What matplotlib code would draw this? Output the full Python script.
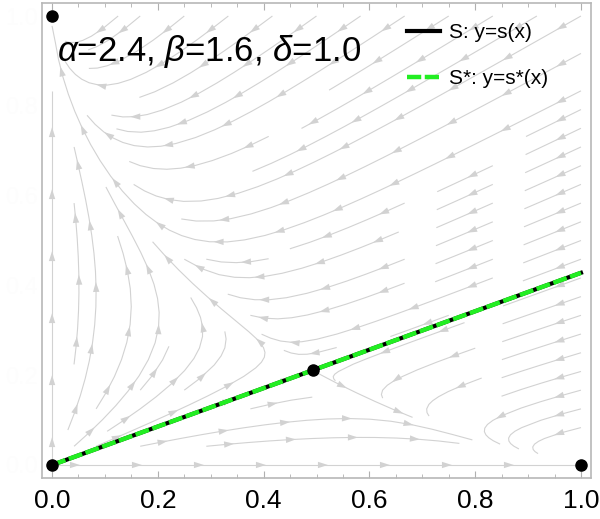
import numpy as np
import matplotlib.pyplot as plt
from matplotlib.patches import Polygon

plt.rcParams['mathtext.fontset'] = 'custom'
plt.rcParams['mathtext.it'] = 'Liberation Sans:italic'
plt.rcParams['mathtext.rm'] = 'Liberation Sans'

# parametros del modelo
alfa = 2.4
beta = 1.6
delta = 1.0

# puntos fijos
puntos_x = [0.0, 0.0, 1.0, 0.493]
puntos_y = [0.0, 1.0, 0.0, 0.211]

# separatriz S y S*
linea_x = [0.0, 1.0]
linea_y = [0.0, 0.428]

ticks_x = [0.0, 0.2, 0.4, 0.6, 0.8, 1.0]
ticks_y = [0.0, 0.2, 0.4, 0.6, 0.8, 1.0]

gris = '#d2d2d2'


def campo(x, y):
    u = x * (1 - x - alfa * y)
    v = delta * y * (1 - y - beta * x)
    return u, v


fig = plt.figure(figsize=(6.0, 5.19), dpi=100)
ax = fig.add_axes([42 / 600, 1 - 478 / 519, 549 / 600, 475 / 519])
ax.set_xlim(-0.019, 1.019)
ax.set_ylim(-0.029, 1.029)

xs = np.linspace(0, 1, 120)
ys = np.linspace(0, 1, 120)
X, Y = np.meshgrid(xs, ys)
U, V = campo(X, Y)
res = ax.streamplot(X, Y, U, V, density=0.85, color=gris, linewidth=0.8,
                    arrowsize=0.01, zorder=1)
for p in list(ax.patches):
    p.remove()

# trayectorias (unir segmentos si vienen de a dos puntos)
segs = [np.asarray(s) for s in res.lines.get_segments()]
if all(len(s) == 2 for s in segs):
    trayectorias = []
    actual = []
    for s in segs:
        if actual and np.allclose(actual[-1], s[0]):
            actual.append(s[1])
        else:
            if len(actual) > 1:
                trayectorias.append(np.array(actual))
            actual = [s[0], s[1]]
    if len(actual) > 1:
        trayectorias.append(np.array(actual))
else:
    trayectorias = segs

# varias flechas por trayectoria (triangulos en pixeles)
inv = ax.transData.inverted()
paso = 62.0
largo = 10.0
ancho = 3.2
for tr in trayectorias:
    pix = ax.transData.transform(tr)
    d = np.r_[0, np.cumsum(np.hypot(*np.diff(pix, axis=0).T))]
    if d[-1] < 20:
        continue
    for pp in np.arange(paso * 0.45, d[-1] - 6, paso):
        i = min(max(np.searchsorted(d, pp), 1), len(tr) - 1)
        v = pix[i] - pix[i - 1]
        n = np.hypot(*v)
        if n == 0:
            continue
        v = v / n
        w = np.array([-v[1], v[0]])
        punta = np.array([np.interp(pp, d, pix[:, 0]), np.interp(pp, d, pix[:, 1])])
        base = punta - v * largo
        tri = np.array([punta, base + w * ancho, base - w * ancho])
        ax.add_patch(Polygon(inv.transform(tri), closed=True, fc=gris, ec='none',
                             zorder=2))

ax.plot(linea_x, linea_y, color='black', lw=3.0, label='S: y=s(x)', zorder=3)
ax.plot(linea_x, linea_y, color='#22ee22', lw=3.2, ls=(0, (3.2, 0.8)),
        label='S*: y=s*(x)', zorder=4)
ax.plot(puntos_x, puntos_y, 'o', color='black', ms=8, zorder=5, clip_on=False)

ax.set_xticks(ticks_x)
ax.set_xticklabels([f'{t:.1f}' for t in ticks_x])
ax.set_yticks(ticks_y)
ax.set_yticklabels([f'{t:.1f}' for t in ticks_y])
ax.set_xticks(np.arange(0, 1.0001, 0.05), minor=True)
ax.tick_params(axis='x', which='both', direction='in', top=True, color='#b0b0b0',
               labelsize=19, pad=8)
ax.tick_params(axis='x', which='major', length=5)
ax.tick_params(axis='x', which='minor', length=3)
ax.tick_params(axis='y', which='both', length=0, labelcolor='#fdfdfd',
               labelsize=17, pad=3)
for sp in ax.spines.values():
    sp.set_color('#b8b8b8')
    sp.set_linewidth(1.2)
for lab in ax.get_xticklabels() + ax.get_yticklabels():
    lab.set_family('Liberation Sans')

ax.text(0.01, 0.922, r'$\alpha$=2.4, $\beta$=1.6, $\delta$=1.0', fontsize=25,
        family='Liberation Sans', va='center', ha='left', zorder=6)

leg = ax.legend(loc='upper left', bbox_to_anchor=(0.665, 0.958), frameon=False,
                prop={'family': 'Liberation Sans', 'size': 15},
                handlelength=1.6, labelspacing=1.3, handletextpad=0.4,
                borderpad=0, borderaxespad=0)

fig.savefig('out.png', dpi=100)
